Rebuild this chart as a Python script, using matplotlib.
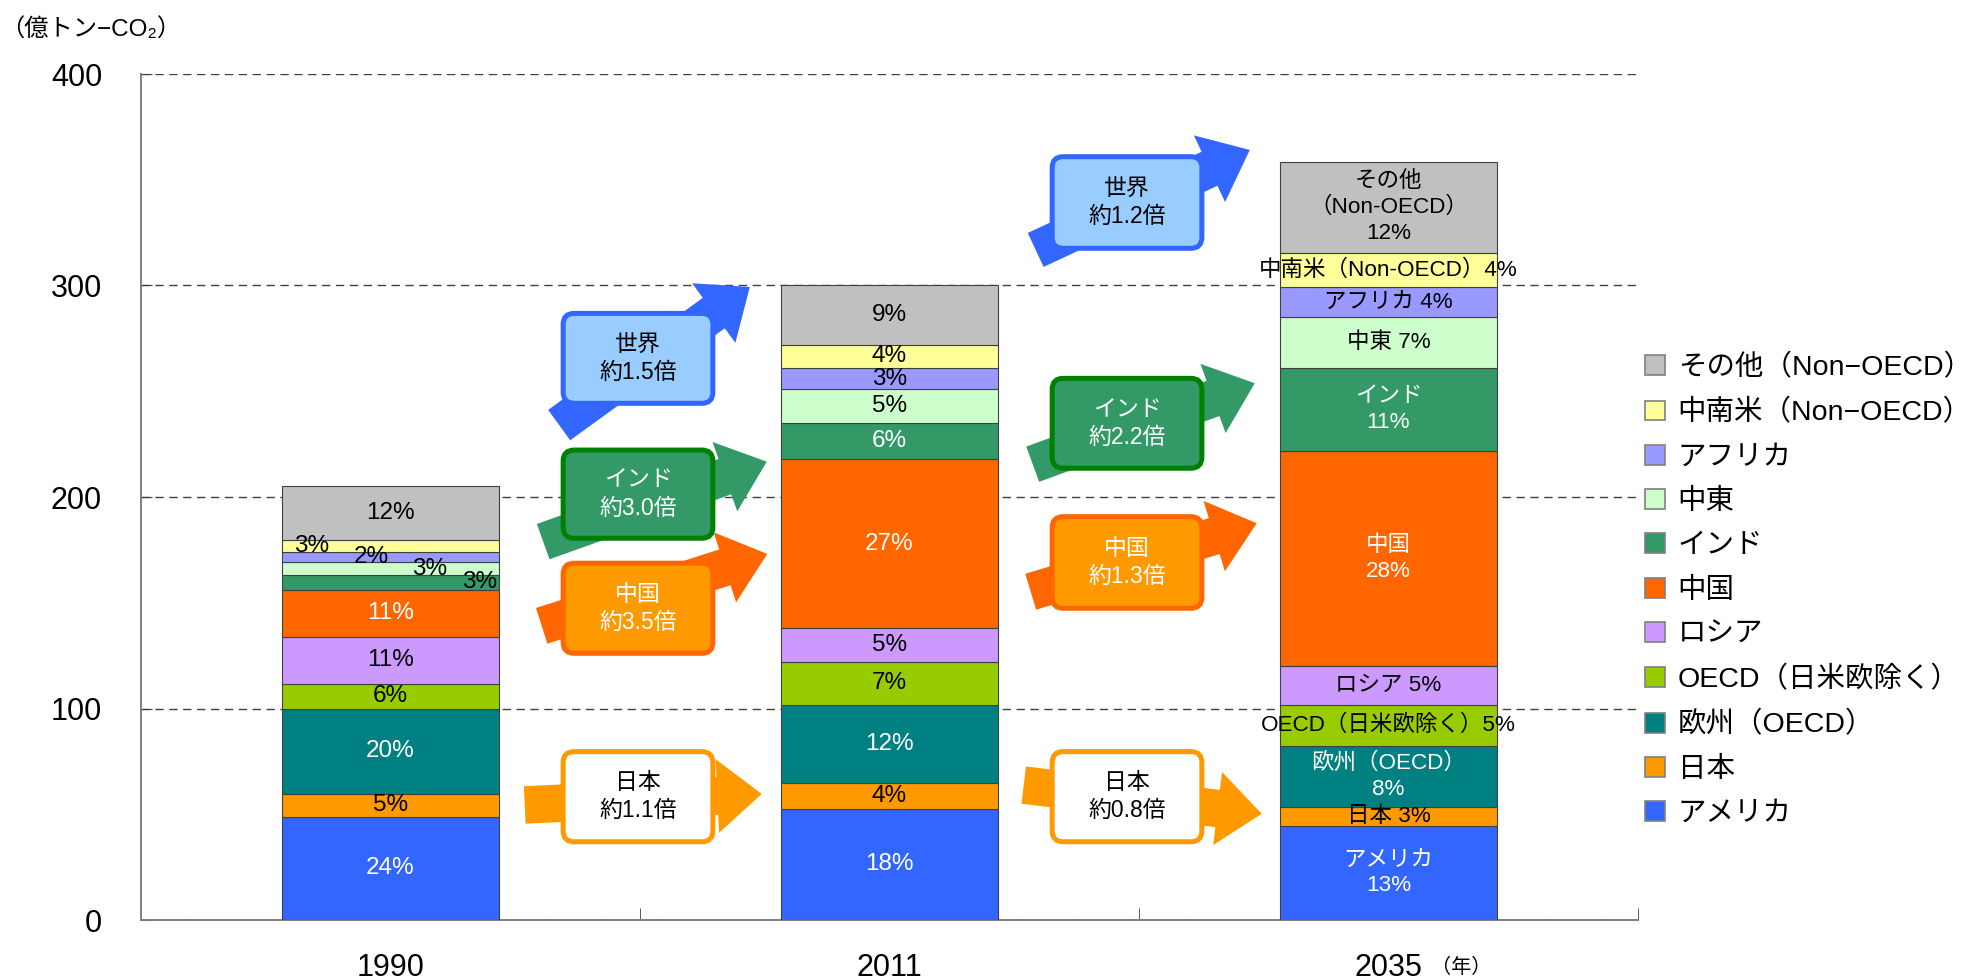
import matplotlib
matplotlib.use('Agg')
import matplotlib.pyplot as plt
from matplotlib.patches import FancyArrowPatch, FancyBboxPatch, Patch
import numpy as np

plt.rcParams['font.family'] = ['Liberation Sans', 'Noto Sans CJK JP', 'DejaVu Sans']

# ---------------- data ----------------
years = ['1990', '2011', '2035']
series_names = ['アメリカ', '日本', '欧州（OECD）', 'OECD（日米欧除く）', 'ロシア', '中国',
                'インド', '中東', 'アフリカ', '中南米（Non−OECD）', 'その他（Non−OECD）']
usa = [48.7, 52.7, 44.5]
japan = [11.0, 12.0, 8.9]
europe = [40.1, 37.1, 29.1]
oecd_other = [12.0, 20.1, 19.0]
russia = [22.2, 16.0, 18.4]
china = [22.2, 79.9, 102.0]
india = [6.9, 17.3, 39.2]
middle_east = [6.0, 15.9, 23.8]
africa = [5.0, 10.0, 14.2]
latin_america = [5.7, 11.1, 16.2]
other = [25.4, 27.9, 43.3]

labels_1990 = ['24%', '5%', '20%', '6%', '11%', '11%', '3%', '3%', '2%', '3%', '12%']
labels_2011 = ['18%', '4%', '12%', '7%', '5%', '27%', '6%', '5%', '3%', '4%', '9%']
labels_2035 = ['アメリカ\n13%', '日本 3%', '欧州（OECD）\n8%', 'OECD（日米欧除く）5%', 'ロシア 5%',
               '中国\n28%', 'インド\n11%', '中東 7%', 'アフリカ 4%', '中南米（Non-OECD）4%',
               'その他\n（Non-OECD）\n12%']

growth_regions = ['世界', 'インド', '中国', '日本']
growth_1990_2011 = ['約1.5倍', '約3.0倍', '約3.5倍', '約1.1倍']
growth_2011_2035 = ['約1.2倍', '約2.2倍', '約1.3倍', '約0.8倍']

y_ticks = [0, 100, 200, 300, 400]
y_unit = '（億トン−CO₂）'

# ---------------- style ----------------
colors = ['#3366FF', '#FF9900', '#008080', '#99CC00', '#CC99FF', '#FF6600',
          '#339966', '#CCFFCC', '#9999FF', '#FFFF99', '#C0C0C0']
white_text = {0, 2, 5, 6}

W, H = 1968, 980
fig = plt.figure(figsize=(W / 100, H / 100), dpi=100)
ax_left, ax_right, ax_bottom, ax_top = 141, 1638, 920, 74
ax = fig.add_axes([ax_left / W, 1 - ax_bottom / H, (ax_right - ax_left) / W, (ax_bottom - ax_top) / H])

series = [usa, japan, europe, oecd_other, russia, china, india, middle_east, africa, latin_america, other]
x = np.arange(len(years))
bar_w = 0.435
bottom = np.zeros(len(years))
for vals, c, name in zip(series, colors, series_names):
    ax.bar(x, vals, bar_w, bottom=bottom, color=c, edgecolor='#404040', linewidth=0.8,
           label=name, zorder=3)
    bottom = bottom + np.array(vals)

ax.set_xlim(-0.5, 2.5)
ax.set_ylim(0, 400)
ax.set_yticks(y_ticks)
ax.set_axisbelow(True)
ax.yaxis.grid(True, linestyle=(0, (6, 4)), color='#404040', linewidth=1.0)
for s in ['top', 'right']:
    ax.spines[s].set_visible(False)
for s in ['left', 'bottom']:
    ax.spines[s].set_color('#808080')
    ax.spines[s].set_linewidth(1.4)

ax.set_xticks(x)
ax.set_xticklabels(years)
ax.set_xticks([0.5, 1.5, 2.5], minor=True)
ax.tick_params(axis='x', which='major', length=0, pad=24, labelsize=22)
ax.tick_params(axis='x', which='minor', direction='in', length=9, color='#404040')
ax.tick_params(axis='y', direction='in', length=8, pad=28, labelsize=22, color='#404040')

# segment labels
all_labels = [labels_1990, labels_2011, labels_2035]
offsets_1990 = {6: 0.179, 7: 0.079, 8: -0.038, 9: -0.158}
for yi in range(len(years)):
    base = 0.0
    for si, vals in enumerate(series):
        v = vals[yi]
        cy = base + v / 2
        cx = x[yi]
        tc = 'white' if si in white_text else 'black'
        fs = 17.5 if yi < 2 else 16.2
        if yi == 0 and si in offsets_1990:
            cx += offsets_1990[si]
            tc = 'black'
        ax.text(cx, cy, all_labels[yi][si], ha='center', va='center', color=tc,
                fontsize=fs, linespacing=1.3, zorder=8)
        base += v

# growth arrows and boxes
asp = (ax_right - ax_left) / 3 / ((ax_bottom - ax_top) / 400)


def growth_arrow(tail, tip, fc, tw=27, hw=53, hl=32):
    p = FancyArrowPatch(tail, tip, arrowstyle=f'simple,head_length={hl},head_width={hw},tail_width={tw}',
                        mutation_scale=1, facecolor=fc, edgecolor='none', lw=0,
                        shrinkA=0, shrinkB=0, zorder=5)
    ax.add_patch(p)


def growth_box(x0, x1, y0, y1, fc, ec, text, tc):
    b = FancyBboxPatch((x0, y0), x1 - x0, y1 - y0, boxstyle='round,pad=0,rounding_size=0.022',
                       mutation_aspect=asp, facecolor=fc, edgecolor=ec, lw=3.6, zorder=6)
    ax.add_patch(b)
    ax.text((x0 + x1) / 2, (y0 + y1) / 2, text, ha='center', va='center', color=tc,
            fontsize=16.5, linespacing=1.3, zorder=7)


arrow_style = {
    '世界': ('#3366FF', '#99CCFF', '#3366FF', 'black'),
    'インド': ('#339966', '#339966', '#008000', 'white'),
    '中国': ('#FF6600', '#FF9900', '#FF6600', 'white'),
    '日本': ('#FF9900', 'white', '#FF9900', 'black'),
}
geom1 = {
    '世界': ((0.338, 234.0), (0.720, 299.3), (244.3, 286.8)),
    'インド': ((0.306, 178.9), (0.754, 216.7), (180.5, 222.2)),
    '中国': ((0.303, 139.1), (0.755, 173.1), (126.1, 168.7)),
    '日本': ((0.269, 54.4), (0.744, 59.6), (37.0, 79.6)),
}
geom2 = {
    '世界': ((1.293, 316.8), (1.722, 364.1), (317.6, 360.9)),
    'インド': ((1.287, 215.5), (1.732, 253.8), (213.6, 256.1)),
    '中国': ((1.283, 155.2), (1.736, 187.6), (147.4, 190.7)),
    '日本': ((1.269, 63.8), (1.746, 50.2), (37.0, 79.6)),
}
for geom, rates, (bx0, bx1) in [(geom1, growth_1990_2011, (0.346, 0.646)),
                                 (geom2, growth_2011_2035, (1.326, 1.626))]:
    for region, rate in zip(growth_regions, rates):
        ac, fc, ec, tc = arrow_style[region]
        tail, tip, (by0, by1) = geom[region]
        growth_arrow(tail, tip, ac)
        growth_box(bx0, bx1, by0, by1, fc, ec, f'{region}\n{rate}', tc)

# unit labels
fig.text(0 / W, 1 - 30 / H, y_unit, ha='left', va='center', fontsize=17.5)
ax.annotate('（年）', xy=(2.145, -0.056), xycoords=('data', 'axes fraction'),
            ha='center', va='center', fontsize=14.5)

# legend (reversed order)
handles = [Patch(facecolor=c, edgecolor='#808080', linewidth=1.2) for c in colors][::-1]
leg = ax.legend(handles, series_names[::-1], loc='upper left',
                bbox_to_anchor=(1645 / W, 1 - 354 / H), bbox_transform=fig.transFigure,
                frameon=False, fontsize=20.5, handlelength=0.7, handleheight=0.7,
                handletextpad=0.45, labelspacing=0.64, borderpad=0, borderaxespad=0)

fig.savefig('out.png', dpi=100)
